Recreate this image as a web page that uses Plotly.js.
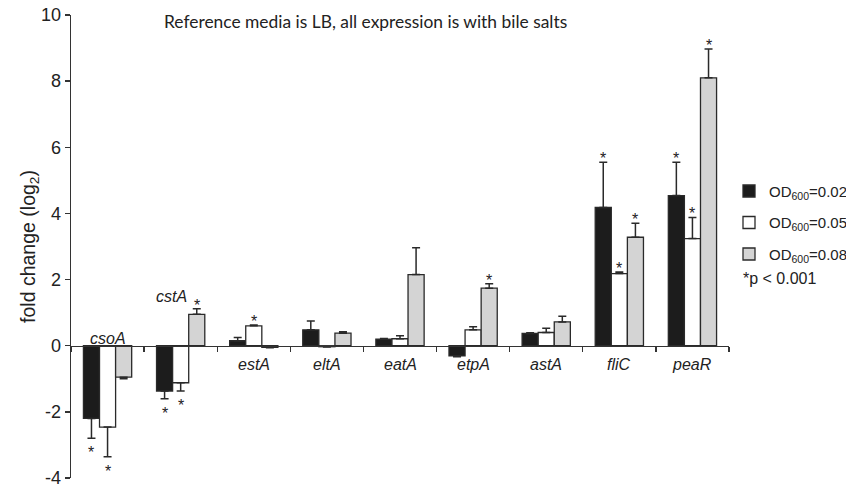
<!DOCTYPE html>
<html><head><meta charset="utf-8">
<script src="https://cdn.plot.ly/plotly-3.0.1.min.js"></script>
<style>html,body{margin:0;padding:0;background:#fff}</style>
</head><body>
<div id="chart" style="width:846px;height:487px"></div>
<script>
// ---- data ----
var genes = ["csoA","cstA","estA","eltA","eatA","etpA","astA","fliC","peaR"];
var seriesNames = ["OD<sub>600</sub>=0.02","OD<sub>600</sub>=0.05","OD<sub>600</sub>=0.08"];
var od002 = [-2.20,-1.37,0.15,0.48,0.20,-0.31,0.37,4.18,4.54];
var od002Err = [0.60,0.23,0.10,0.27,0.02,0.02,0.02,1.37,1.01];
var od005 = [-2.46,-1.12,0.60,-0.03,0.21,0.48,0.40,2.18,3.24];
var od005Err = [0.90,0.25,0.03,0.01,0.09,0.09,0.13,0.05,0.64];
var od008 = [-0.95,0.95,-0.05,0.38,2.15,1.74,0.72,3.28,8.10];
var od008Err = [0.05,0.17,0.01,0.04,0.81,0.13,0.17,0.42,0.87];
var sig002 = [1,1,0,0,0,0,0,1,1];
var sig005 = [1,1,1,0,0,0,0,1,1];
var sig008 = [0,1,0,0,0,1,0,1,1];
var titleText = "Reference media is LB, all expression is with bile salts";
var yTitle = "fold change (log<sub>2</sub>)";
var pNote = "*p < 0.001";
var yTicks = [-4,-2,0,2,4,6,8,10];

// ---- build ----
var vals = [od002, od005, od008];
var errs = [od002Err, od005Err, od008Err];
var sigs = [sig002, sig005, sig008];
var fills = ["#1c1c1c", "#ffffff", "#d4d4d4"];
var yMin = -4, yMax = 10;
var bargap = 0.34;
var barW = (1 - bargap) / 3;
var FONT = "Liberation Sans, Arial, sans-serif";

var traces = vals.map(function (v, k) {
  var up = v.map(function (y, i) { return y >= 0 ? errs[k][i] : 0; });
  var dn = v.map(function (y, i) { return y < 0 ? errs[k][i] : 0; });
  return {
    type: "bar", x: genes, y: v, name: seriesNames[k], legendgroup: "g" + k,
    marker: { color: fills[k], line: { color: "#2a2a2a", width: 1.3 } },
    error_y: { type: "data", symmetric: false, array: up, arrayminus: dn,
               color: "#2a2a2a", thickness: 1.5, width: 4 },
    hoverinfo: "skip"
  };
});

var ann = [];
// significance stars
vals.forEach(function (v, k) {
  v.forEach(function (y, i) {
    if (!sigs[k][i]) return;
    var end = y >= 0 ? y + errs[k][i] : y - errs[k][i];
    ann.push({ x: i + (k - 1) * barW, y: end, xref: "x", yref: "y",
      text: "*", showarrow: false, font: { family: FONT, size: 16, color: "#222" },
      yanchor: y >= 0 ? "bottom" : "top", yshift: y >= 0 ? -7 : -4 });
  });
});
// gene labels (italic)
genes.forEach(function (g, i) {
  var a = { x: i, y: 0, xref: "x", yref: "y", text: "<i>" + g + "</i>", showarrow: false,
    font: { family: FONT, size: 16, color: "#222" } };
  if (g === "csoA") { a.yanchor = "bottom"; a.yshift = -3; }
  else if (g === "cstA") { a.x = i - 0.12; a.y = od008[i] + od008Err[i]; a.yanchor = "bottom"; a.yshift = 2; }
  else { a.yanchor = "top"; a.yshift = -8; }
  ann.push(a);
});
ann.push({ x: 0.447, y: 0.985, xref: "paper", yref: "paper", text: titleText, showarrow: false,
  font: { family: "Lato, Open Sans, sans-serif", size: 17.4, color: "#222" }, yanchor: "middle" });
ann.push({ x: 1.022, y: 0.431, xref: "paper", yref: "paper", text: pNote, showarrow: false,
  xanchor: "left", yanchor: "middle", xshift: -2, font: { family: FONT, size: 16, color: "#222" } });

var layout = {
  width: 846, height: 487,
  margin: { l: 71, r: 117, t: 15, b: 9, autoexpand: false },
  paper_bgcolor: "#fff", plot_bgcolor: "#fff",
  barmode: "group", bargap: bargap, bargroupgap: 0,
  showlegend: true,
  legend: { x: 1.0, xanchor: "left", y: 0.655, yanchor: "top",
    font: { family: FONT, size: 15, color: "#222" }, traceorder: "grouped",
    itemwidth: 30, tracegroupgap: 9, bgcolor: "rgba(0,0,0,0)" },
  xaxis: { type: "category", range: [-0.5, genes.length - 0.5], anchor: "free",
    position: (0 - yMin) / (yMax - yMin), showline: true, linecolor: "#333", linewidth: 1.3,
    ticks: "outside", tickson: "boundaries", ticklen: 5, tickcolor: "#333", tickwidth: 1.3,
    showticklabels: false, showgrid: false, zeroline: false },
  yaxis: { range: [yMin, yMax], tickmode: "array", tickvals: yTicks,
    ticktext: yTicks.map(function (t) { return String(t); }), ticklabeloverflow: "allow",
    ticks: "outside", ticklen: 5,
    tickcolor: "#333", tickwidth: 1.3, showline: true, linecolor: "#333", linewidth: 1.3,
    showgrid: false, zeroline: false,
    tickfont: { family: FONT, size: 18, color: "#222" },
    title: { text: yTitle, font: { family: FONT, size: 19.5, color: "#222" }, standoff: 0 } },
  annotations: ann
};
Plotly.newPlot("chart", traces, layout, { displayModeBar: false, staticPlot: true });
</script>
</body></html>
